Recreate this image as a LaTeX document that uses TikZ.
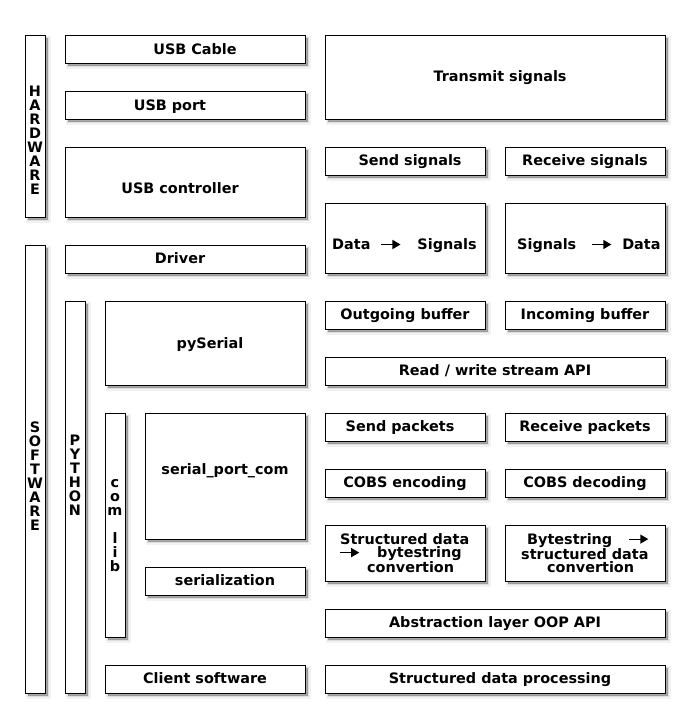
\documentclass[tikz,border=0pt]{standalone}
\usepackage{fontspec}
\setmainfont{DejaVu Sans}
\usetikzlibrary{fit}
\newsavebox{\arrbox}
\newcommand{\arr}{\usebox{\arrbox}}
\tikzset{
  x=1pt, y=-1pt,
  box/.style={draw=black, line width=1pt, fill=white, inner sep=0pt, rectangle,
    preaction={draw=black, draw opacity=0.05, line width=5pt, fill=black, fill opacity=0.05, transform canvas={shift={(3pt,-3pt)}}},
    preaction={draw=black, draw opacity=0.08, line width=2.5pt, fill=black, fill opacity=0.08, transform canvas={shift={(3pt,-3pt)}}},
    preaction={fill=black, fill opacity=0.2, transform canvas={shift={(3pt,-3pt)}}}},
  txt/.style={inner sep=0pt, font=\fontsize{14.4}{13.5}\selectfont\bfseries, text=black, anchor=base},
  mtxt/.style={inner sep=0pt, font=\fontsize{14.4}{13.5}\selectfont\bfseries, text=black, align=left, anchor=west},
  vtxt/.style={inner sep=0pt, font=\fontsize{14.4}{14}\selectfont\bfseries, text=black, align=center}
}
\begin{document}
\sbox{\arrbox}{\begin{pgfpicture}%
 \pgfsetbaseline{0pt}%
 \pgfpathrectangle{\pgfpoint{0pt}{-1pt}}{\pgfpoint{19pt}{11pt}}\pgfusepath{use as bounding box}%
 \pgfsetlinewidth{1.1pt}%
 \pgfpathmoveto{\pgfpoint{0pt}{5pt}}\pgfpathlineto{\pgfpoint{12pt}{5pt}}\pgfusepath{stroke}%
 \pgfpathmoveto{\pgfpoint{11pt}{0.3pt}}\pgfpathlineto{\pgfpoint{19pt}{5pt}}\pgfpathlineto{\pgfpoint{11pt}{9.7pt}}\pgfpathclose\pgfusepath{fill}%
\end{pgfpicture}}%
\begin{tikzpicture}
\useasboundingbox[fill=white] (0,0) rectangle (690,728);
% boxes
\node[box, fit={(25,35)(45,217)}] (hw) {};
\node[box, fit={(65,35)(305,63)}] (cable) {};
\node[box, fit={(65,91)(305,119)}] (port) {};
\node[box, fit={(65,147)(305,217)}] (ctrl) {};
\node[box, fit={(325,35)(665,119)}] (trans) {};
\node[box, fit={(325,147)(485,175)}] (send) {};
\node[box, fit={(505,147)(665,175)}] (recv) {};
\node[box, fit={(325,203)(485,273)}] (d2s) {};
\node[box, fit={(505,203)(665,273)}] (s2d) {};
\node[box, fit={(25,245)(45,693)}] (sw) {};
\node[box, fit={(65,245)(305,273)}] (drv) {};
\node[box, fit={(65,301)(85,693)}] (py) {};
\node[box, fit={(105,301)(305,385)}] (pys) {};
\node[box, fit={(325,301)(485,329)}] (outb) {};
\node[box, fit={(505,301)(665,329)}] (inb) {};
\node[box, fit={(325,357)(665,385)}] (rw) {};
\node[box, fit={(105,413)(125,637)}] (com) {};
\node[box, fit={(145,413)(305,539)}] (spc) {};
\node[box, fit={(145,567)(305,595)}] (ser) {};
\node[box, fit={(325,413)(485,441)}] (sp) {};
\node[box, fit={(505,413)(665,441)}] (rp) {};
\node[box, fit={(325,469)(485,497)}] (enc) {};
\node[box, fit={(505,469)(665,497)}] (dec) {};
\node[box, fit={(325,525)(485,581)}] (sdb) {};
\node[box, fit={(505,525)(665,581)}] (bsd) {};
\node[box, fit={(325,609)(665,637)}] (oop) {};
\node[box, fit={(105,665)(305,693)}] (cli) {};
\node[box, fit={(325,665)(665,693)}] (proc) {};
% texts
\node[vtxt] (hwt) at (35,140) {H\\A\\R\\D\\W\\A\\R\\E};
\node[vtxt] (swt) at (35,476) {S\\O\\F\\T\\W\\A\\R\\E};
\node[vtxt] (pyt) at (75,475.5) {P\\Y\\T\\H\\O\\N};
\node[vtxt] (comt) at (115,526) {c\\o\\m\\\mbox{}\\l\\i\\b};
\node[txt] (cablet) at (195,54.3) {USB Cable};
\node[txt] (portt) at (170,110.3) {USB port};
\node[txt] (ctrlt) at (180,193.3) {USB controller};
\node[txt] (transt) at (500,81.3) {Transmit signals};
\node[txt] (sendt) at (410,165.8) {Send signals};
\node[txt] (recvt) at (585,165.8) {Receive signals};
\node[txt, anchor=base west] (d2st) at (332,249.5) {Data\hspace{11pt}\arr\hspace{17pt}Signals};
\node[txt, anchor=base west] (s2dt) at (517,249.5) {Signals\hspace{16pt}\arr\hspace{11pt}Data};
\node[txt] (drvt) at (180,263.8) {Driver};
\node[txt] (pyst) at (210,348.3) {pySerial};
\node[txt] (outbt) at (405,319.8) {Outgoing buffer};
\node[txt] (inbt) at (585,319.8) {Incoming buffer};
\node[txt] (rwt) at (495,375.8) {Read / write stream API};
\node[txt] (spct) at (225,474.3) {serial\_port\_com};
\node[txt] (sert) at (225,585.8) {serialization};
\node[txt] (spt) at (400,431.8) {Send packets};
\node[txt] (rpt) at (585,431.8) {Receive packets};
\node[txt] (enct) at (405,487.8) {COBS encoding};
\node[txt] (dect) at (585,487.8) {COBS decoding};
\node[mtxt] (sdbt) at (340,553) {Structured data\\\arr\hspace{18pt}bytestring\\\hspace*{27pt}convertion};
\node[mtxt] (bsdt) at (521,553) {\hspace*{6pt}Bytestring\hspace{17pt}\arr\\structured data\\\hspace*{26pt}convertion};
\node[txt] (oopt) at (495,627.8) {Abstraction layer OOP API};
\node[txt] (clit) at (205,683.8) {Client software};
\node[txt] (proct) at (500,683.8) {Structured data processing};
\end{tikzpicture}
\end{document}
